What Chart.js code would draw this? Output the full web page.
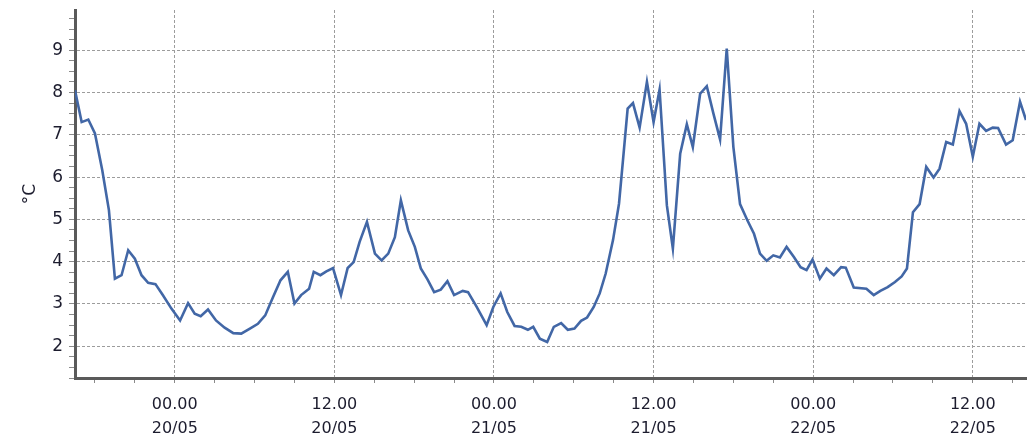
<!DOCTYPE html>
<html>
<head>
<meta charset="utf-8">
<script src="https://cdn.jsdelivr.net/npm/chart.js@4/dist/chart.umd.min.js"></script>
<style>
  html, body { margin: 0; padding: 0; background: #ffffff; }
  #wrap { width: 1034px; height: 439px; position: relative; }
</style>
</head>
<body>
<div id="wrap"><canvas id="c"></canvas></div>
<script>
// Hours since 20/05 00.00
const times = [
  -7.5, -7.0, -6.5, -6.0, -5.45, -4.95, -4.5, -4.0, -3.5, -3.0, -2.5, -2.0, -1.45, -0.9, -0.25,
  0.4, 1.0, 1.5, 1.95, 2.5, 3.1, 3.75, 4.4, 5.0, 5.65, 6.25, 6.8,
  7.4, 7.95, 8.5, 9.0, 9.5, 10.1, 10.45, 10.95, 11.4, 11.9, 12.5, 13.0, 13.45, 13.9, 14.45,
  15.05, 15.55, 16.05, 16.55, 17.0, 17.55, 18.05, 18.5, 19.0, 19.5, 20.0, 20.5, 21.0,
  21.65, 22.05, 22.7, 23.45, 23.95, 24.5, 25.0, 25.55, 26.05, 26.55, 26.95, 27.45, 28.0,
  28.5, 29.05, 29.55, 30.05, 30.55, 31.0, 31.5, 31.95, 32.4, 32.95, 33.4, 33.7, 34.05,
  34.45, 34.95, 35.5, 36.0, 36.45, 37.0, 37.45, 38.0, 38.5, 38.95, 39.5, 40.0, 40.5,
  41.0, 41.5, 42.0, 42.5, 43.05, 43.55, 44.0, 44.5, 45.0, 45.5, 46.0, 46.55, 47.05,
  47.5, 47.95, 48.5, 49.0, 49.55, 50.1, 50.45, 51.05, 52.0, 52.55, 53.05, 53.6, 54.15,
  54.65, 55.05, 55.5, 56.0, 56.5, 57.05, 57.5, 58.0, 58.5, 59.0, 59.5, 60.0, 60.5,
  61.0, 61.5, 61.9, 62.5, 63.0, 63.55, 64.0
];
const temps = [
  8.05, 7.30, 7.36, 7.03, 6.16, 5.22, 3.60, 3.68, 4.27, 4.07, 3.68, 3.50, 3.47, 3.21, 2.89,
  2.61, 3.02, 2.77, 2.71, 2.87, 2.61, 2.44, 2.31, 2.30, 2.42, 2.53, 2.73,
  3.17, 3.56, 3.76, 3.01, 3.21, 3.36, 3.76, 3.68, 3.77, 3.85, 3.21, 3.85, 3.99, 4.47, 4.94,
  4.19, 4.03, 4.19, 4.58, 5.45, 4.74, 4.35, 3.84, 3.58, 3.28, 3.34, 3.54, 3.21,
  3.31, 3.28, 2.93, 2.50, 2.93, 3.25, 2.81, 2.48, 2.46, 2.39, 2.46, 2.18, 2.10,
  2.46, 2.55, 2.39, 2.42, 2.60, 2.68, 2.93, 3.25, 3.72, 4.51, 5.37, 6.40, 7.62,
  7.75, 7.17, 8.25, 7.30, 8.07, 5.33, 4.31, 6.55, 7.25, 6.71, 7.97, 8.15, 7.50,
  6.89, 9.04, 6.71, 5.36, 4.98, 4.66, 4.19, 4.02, 4.15, 4.10, 4.35, 4.11, 3.87,
  3.80, 4.05, 3.60, 3.84, 3.68, 3.87, 3.86, 3.39, 3.36, 3.21, 3.31, 3.40, 3.52,
  3.65, 3.84, 5.17, 5.36, 6.24, 5.99, 6.20, 6.83, 6.77, 7.56, 7.26, 6.48, 7.26,
  7.09, 7.17, 7.16, 6.77, 6.87, 7.78, 7.35
];
const xTickHours = [0, 12, 24, 36, 48, 60];
const xTickTimeLabels = ["00.00", "12.00", "00.00", "12.00", "00.00", "12.00"];
const xTickDateLabels = ["20/05", "20/05", "21/05", "21/05", "22/05", "22/05"];
const yTickLabels = [2, 3, 4, 5, 6, 7, 8, 9];
const yTitle = "°C";

const X_MIN = -7.5, X_MAX = 64, X_MINOR = 3;
const Y_MIN = 1.25, Y_MAX = 9.95, Y_MINOR = 0.25;

const points = times.map((t, i) => ({ x: t, y: temps[i] }));

const bgPlugin = {
  id: 'bg',
  beforeDraw(chart) {
    const ctx = chart.ctx;
    ctx.save();
    ctx.fillStyle = '#ffffff';
    ctx.fillRect(0, 0, chart.width, chart.height);
    ctx.restore();
  }
};

function isMajorX(v) { return xTickHours.indexOf(v) !== -1; }
function isMajorY(v) { return yTickLabels.indexOf(v) !== -1; }

new Chart(document.getElementById('c'), {
  type: 'line',
  data: {
    datasets: [{
      data: points,
      borderColor: '#4267a6',
      borderWidth: 2.6,
      pointRadius: 0,
      tension: 0,
      fill: false
    }]
  },
  plugins: [bgPlugin],
  options: {
    responsive: true,
    maintainAspectRatio: false,
    animation: false,
    events: [],
    layout: { padding: { top: 10, right: 8, left: 0, bottom: 0 } },
    plugins: { legend: { display: false }, tooltip: { enabled: false } },
    scales: {
      x: {
        type: 'linear',
        min: X_MIN,
        max: X_MAX,
        afterBuildTicks(scale) {
          const ticks = [];
          for (let v = Math.ceil(X_MIN / X_MINOR) * X_MINOR; v <= X_MAX; v += X_MINOR) ticks.push({ value: v });
          scale.ticks = ticks;
        },
        afterFit(scale) { scale.height = 61; scale.paddingLeft = 0; scale.paddingRight = 0; },
        ticks: {
          autoSkip: false,
          maxRotation: 0,
          minRotation: 0,
          padding: 9,
          color: '#1c1c2e',
          font: { family: 'DejaVu Sans', size: 16, lineHeight: 1.55 },
          callback(value) {
            const i = xTickHours.indexOf(value);
            return i === -1 ? '' : [xTickTimeLabels[i], xTickDateLabels[i]];
          }
        },
        grid: {
          color(ctx) { return (ctx.tick && isMajorX(ctx.tick.value)) ? '#9c9c9c' : 'rgba(0,0,0,0)'; },
          lineWidth: 1,
          tickColor: '#8a8a8a',
          tickLength: 5,
          tickWidth: 1
        },
        border: { display: true, color: '#5a5a5a', width: 3, dash: [3, 2] }
      },
      y: {
        type: 'linear',
        min: Y_MIN,
        max: Y_MAX,
        afterBuildTicks(scale) {
          const ticks = [];
          for (let v = Math.ceil(Y_MIN / Y_MINOR) * Y_MINOR; v <= Y_MAX + 1e-9; v += Y_MINOR) ticks.push({ value: Math.round(v * 100) / 100 });
          scale.ticks = ticks;
        },
        afterFit(scale) { scale.width = 75; scale.paddingTop = 0; scale.paddingBottom = 0; },
        title: {
          display: true,
          text: yTitle,
          color: '#1c1c2e',
          font: { family: 'DejaVu Sans', size: 17, lineHeight: 1.2 },
          padding: { top: 20, bottom: 0 }
        },
        ticks: {
          autoSkip: false,
          padding: 6,
          color: '#1c1c2e',
          font: { family: 'DejaVu Sans', size: 17 },
          callback(value) { return isMajorY(value) ? String(value) : ''; }
        },
        grid: {
          color(ctx) { return (ctx.tick && isMajorY(ctx.tick.value)) ? '#9c9c9c' : 'rgba(0,0,0,0)'; },
          lineWidth: 1,
          tickColor: '#8a8a8a',
          tickLength: 6,
          tickWidth: 1
        },
        border: { display: true, color: '#5a5a5a', width: 3, dash: [3, 2] }
      }
    }
  }
});
</script>
</body>
</html>
